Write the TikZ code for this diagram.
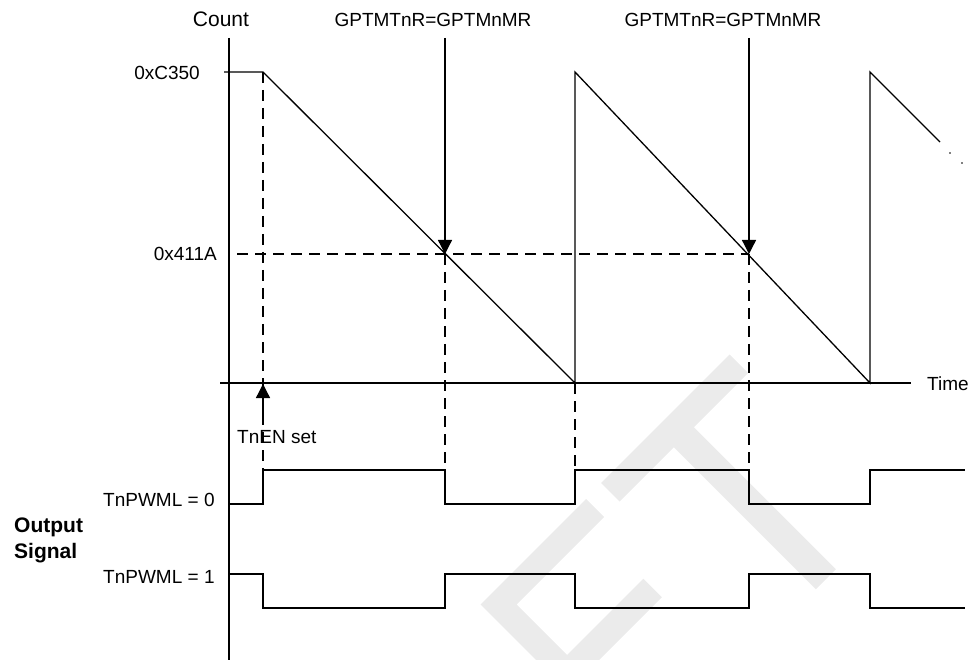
\documentclass[tikz,border=0pt]{standalone}
\usepackage{fontspec}
\setmainfont{Liberation Sans}
\usetikzlibrary{arrows.meta}
\begin{document}
\begin{tikzpicture}[x=1pt,y=-1pt,
  wave/.style={line width=1.3pt, line join=miter},
  guide/.style={line width=1.2pt, dash pattern=on 11pt off 7pt},
  axis/.style={line width=1.3pt},
  tip/.style={-{Triangle[length=14pt,width=14pt]}},
  lbl/.style={inner sep=0pt, font=\fontsize{19}{22}\selectfont},
  big/.style={inner sep=0pt, font=\fontsize{21}{24}\selectfont},
  bigb/.style={inner sep=0pt, font=\fontsize{21}{24}\selectfont\bfseries},
  wm/.style={fill=black!8, draw=none}
]
\useasboundingbox (0,0) rectangle (972,660);
% watermark
\begin{scope}
  \clip (0,0) rectangle (972,660);
  \fill[wm] (601,483) -- (729.5,354.5) -- (748,373) -- (693.75,427.25) -- (835.75,569.25)
            -- (815.75,589.25) -- (673.75,447.25) -- (619.5,501.5) -- cycle;
  \fill[wm] (586,499) -- (480.5,604.5) -- (567.5,691.5) -- (661.75,597.25) -- (643.25,578.75)
            -- (567,655) -- (516.5,604.5) -- (604,517) -- cycle;
\end{scope}
% key points
\coordinate (ytop) at (229,38);
\coordinate (ybot) at (229,660);
\coordinate (xl) at (220,383);
\coordinate (xr) at (911,383);
\coordinate (t0) at (224,72);
\coordinate (s1) at (263,72);
\coordinate (m1) at (445,254);
\coordinate (z1) at (575,383);
\coordinate (s2) at (575,72);
\coordinate (m2) at (749,254);
\coordinate (z2) at (870,383);
\coordinate (s3) at (870,72);
\coordinate (e3) at (940,142);
\coordinate (d1) at (950,153);
\coordinate (d2) at (962,163);
\coordinate (a1) at (445,38);
\coordinate (a2) at (749,38);
\coordinate (en0) at (263,415);
\coordinate (en1) at (263,384);
\coordinate (h0) at (237,254);
\coordinate (g1) at (263,470);
\coordinate (g2) at (445,470);
\coordinate (g3) at (575,470);
\coordinate (g4) at (749,470);
% axes
\draw[axis] (ytop) -- (ybot);
\draw[axis] (xl) -- (xr);
% dashed guides
\draw[guide] (s1) -- (g1);
\draw[guide] (h0) -- (m2);
\draw[guide] (m1) -- (g2);
\draw[guide] (z1) -- (g3);
\draw[guide] (m2) -- (g4);
% counter
\draw[wave] (t0) -- (s1) -- (z1) -- (s2) -- (z2) -- (s3) -- (e3);
\fill (d1) circle (0.9pt);
\fill (d2) circle (0.9pt);
% arrows
\draw[axis,tip] (a1) -- (m1);
\draw[axis,tip] (a2) -- (m2);
\draw[axis,tip] (en0) -- (en1);
% output waveforms
\draw[wave] (229,504) -| (263,470) -| (445,504) -| (575,470) -| (749,504) -| (870,470) -- (965,470);
\draw[wave] (229,574) -| (263,608) -| (445,574) -| (575,608) -| (749,574) -| (870,608) -- (965,608);
% labels
\node[big, anchor=base] (count) at (221,27) {Count};
\node[lbl, anchor=base] (lab1) at (433,26.5) {GPTMTnR=GPTMnMR};
\node[lbl, anchor=base] (lab2) at (723,26.5) {GPTMTnR=GPTMnMR};
\node[lbl, anchor=base east] (vC350) at (200,79.5) {0xC350};
\node[lbl, anchor=base east] (v411A) at (217,261) {0x411A};
\node[lbl, anchor=base west] (time) at (927,390) {Time};
\node[lbl, anchor=base west] (tnen) at (237,443) {TnEN set};
\node[lbl, anchor=base west] (pw0) at (103,506.5) {TnPWML = 0};
\node[lbl, anchor=base west] (pw1) at (103,583) {TnPWML = 1};
\node[bigb, anchor=base west] (out1) at (14,532.5) {Output};
\node[bigb, anchor=base west] (out2) at (14,558) {Signal};
\end{tikzpicture}
\end{document}
